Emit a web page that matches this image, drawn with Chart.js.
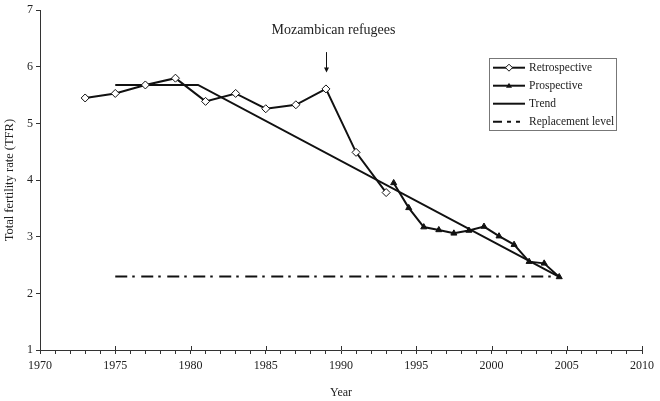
<!DOCTYPE html>
<html>
<head>
<meta charset="utf-8">
<script src="https://cdn.jsdelivr.net/npm/chart.js@4.4.1/dist/chart.umd.min.js"></script>
<style>
  html, body { margin: 0; padding: 0; background: #fff; }
  #wrap { width: 660px; height: 401px; }
</style>
</head>
<body>
<div id="wrap"><canvas id="c" width="660" height="401"></canvas></div>
<script>
// ---- Data ----
const retroYears  = [1973, 1975, 1977, 1979, 1981, 1983, 1985, 1987, 1989, 1991, 1993];
const retroValues = [5.45, 5.53, 5.68, 5.80, 5.39, 5.53, 5.26, 5.33, 5.61, 4.49, 3.78];

const prospYears  = [1993.5, 1994.5, 1995.5, 1996.5, 1997.5, 1998.5, 1999.5, 2000.5, 2001.5, 2002.5, 2003.5, 2004.5];
const prospValues = [3.95, 3.51, 3.17, 3.12, 3.06, 3.11, 3.18, 3.01, 2.86, 2.56, 2.53, 2.29];

const trendYears  = [1975, 1980.5, 2004.5];
const trendValues = [5.68, 5.68, 2.29];

const replYears   = [1975, 2004.5];
const replValues  = [2.30, 2.30];

const seriesNames = ['Retrospective', 'Prospective', 'Trend', 'Replacement level'];
const annotationText = 'Mozambican refugees';
const annotationYear = 1989;
const xTitle = 'Year';
const yTitle = 'Total fertility rate (TFR)';

const pts = (xs, ys) => xs.map((x, i) => ({ x: x, y: ys[i] }));

const FONT = '"Liberation Serif", "Times New Roman", serif';
const INK = '#111';
const DASH = [12, 5, 2.5, 6.5];

const overlay = {
  id: 'overlay',
  afterDraw(chart) {
    const ctx = chart.ctx;
    const xs = chart.scales.x, ys = chart.scales.y;
    const ca = chart.chartArea;
    ctx.save();
    // upward part of major x ticks
    ctx.strokeStyle = '#333';
    ctx.lineWidth = 1;
    for (let yr = 1970; yr <= 2010; yr += 5) {
      const px = Math.round(xs.getPixelForValue(yr)) + 0.5;
      ctx.beginPath();
      ctx.moveTo(px, ca.bottom);
      ctx.lineTo(px, ca.bottom - 4);
      ctx.stroke();
    }
    // annotation
    ctx.fillStyle = '#222';
    ctx.font = '14px ' + FONT;
    ctx.textAlign = 'center';
    ctx.textBaseline = 'middle';
    ctx.fillText(annotationText, xs.getPixelForValue(annotationYear + 0.5), ys.getPixelForValue(6.65));
    const ax = Math.round(xs.getPixelForValue(annotationYear)) + 0.5;
    const ay0 = ys.getPixelForValue(6.26), ay1 = ys.getPixelForValue(5.90);
    ctx.strokeStyle = INK;
    ctx.lineWidth = 1;
    ctx.beginPath(); ctx.moveTo(ax, ay0); ctx.lineTo(ax, ay1 - 3); ctx.stroke();
    ctx.fillStyle = INK;
    ctx.beginPath(); ctx.moveTo(ax - 2.5, ay1 - 5); ctx.lineTo(ax + 2.5, ay1 - 5); ctx.lineTo(ax, ay1); ctx.closePath(); ctx.fill();

    // legend
    const bx = ca.right - 153, by = ca.top + 47.5, bw = 127, bh = 72;
    ctx.strokeStyle = '#777';
    ctx.lineWidth = 1;
    ctx.strokeRect(Math.round(bx) + 0.5, Math.round(by) + 0.5, bw, bh);
    const rowY = [by + 10, by + 28, by + 46, by + 64];
    const lx0 = bx + 4, lx1 = bx + 36, tx = bx + 40;
    ctx.font = '11.5px ' + FONT;
    ctx.textAlign = 'left';
    ctx.textBaseline = 'middle';
    for (let i = 0; i < 4; i++) {
      const yy = rowY[i];
      ctx.strokeStyle = INK;
      ctx.lineWidth = 2;
      ctx.setLineDash(i === 3 ? [9, 5, 4, 5, 4, 5] : []);
      ctx.beginPath(); ctx.moveTo(lx0, yy); ctx.lineTo(lx1, yy); ctx.stroke();
      ctx.setLineDash([]);
      const cx = (lx0 + lx1) / 2;
      if (i === 0) {
        ctx.fillStyle = '#fff'; ctx.lineWidth = 1;
        ctx.beginPath(); ctx.moveTo(cx, yy - 3.5); ctx.lineTo(cx + 3.5, yy); ctx.lineTo(cx, yy + 3.5); ctx.lineTo(cx - 3.5, yy); ctx.closePath();
        ctx.fill(); ctx.stroke();
      } else if (i === 1) {
        ctx.fillStyle = INK;
        ctx.beginPath(); ctx.moveTo(cx, yy - 3); ctx.lineTo(cx + 3, yy + 2); ctx.lineTo(cx - 3, yy + 2); ctx.closePath(); ctx.fill();
      }
      ctx.fillStyle = '#222';
      ctx.fillText(seriesNames[i], tx, yy);
    }
    ctx.restore();
  }
};

new Chart(document.getElementById('c'), {
  type: 'line',
  data: {
    datasets: [
      {
        label: seriesNames[0], data: pts(retroYears, retroValues),
        borderColor: INK, borderWidth: 2, pointStyle: 'rectRot', pointRadius: 4,
        pointBackgroundColor: '#fff', pointBorderColor: INK, pointBorderWidth: 1, tension: 0, order: 1
      },
      {
        label: seriesNames[1], data: pts(prospYears, prospValues),
        borderColor: INK, borderWidth: 2, pointStyle: 'triangle', pointRadius: 3.5,
        pointBackgroundColor: INK, pointBorderColor: INK, pointBorderWidth: 1, tension: 0, order: 2
      },
      {
        label: seriesNames[2], data: pts(trendYears, trendValues),
        borderColor: INK, borderWidth: 2, pointRadius: 0, tension: 0, order: 3
      },
      {
        label: seriesNames[3], data: pts(replYears, replValues),
        borderColor: INK, borderWidth: 2, borderDash: DASH, pointRadius: 0, tension: 0, order: 4
      }
    ]
  },
  options: {
    responsive: false,
    animation: false,
    layout: { padding: { top: 10, right: 18, left: 0, bottom: 0 } },
    plugins: { legend: { display: false }, tooltip: { enabled: false } },
    scales: {
      x: {
        type: 'linear', min: 1970, max: 2010,
        afterFit: s => { s.height = 51; },
        ticks: {
          stepSize: 1, autoSkip: false, maxRotation: 0, padding: 5,
          color: '#222', font: { family: FONT, size: 12 },
          callback: v => (v % 5 === 0 ? String(v) : '')
        },
        grid: { drawOnChartArea: false, drawTicks: true, tickLength: 4, color: '#333' },
        border: { display: true, color: '#333', width: 1 },
        title: { display: true, text: xTitle, color: '#222', font: { family: FONT, size: 12 }, padding: { top: 0, bottom: 1 } }
      },
      y: {
        type: 'linear', min: 1, max: 7,
        afterFit: s => { s.width = 40; },
        ticks: { stepSize: 1, padding: 3, color: '#222', font: { family: FONT, size: 12 } },
        grid: { drawOnChartArea: false, drawTicks: true, tickLength: 4, color: '#333' },
        border: { display: true, color: '#333', width: 1 },
        title: { display: true, text: yTitle, color: '#222', font: { family: FONT, size: 12.5 }, padding: { top: 2, bottom: 0 } }
      }
    }
  },
  plugins: [overlay]
});
</script>
</body>
</html>
